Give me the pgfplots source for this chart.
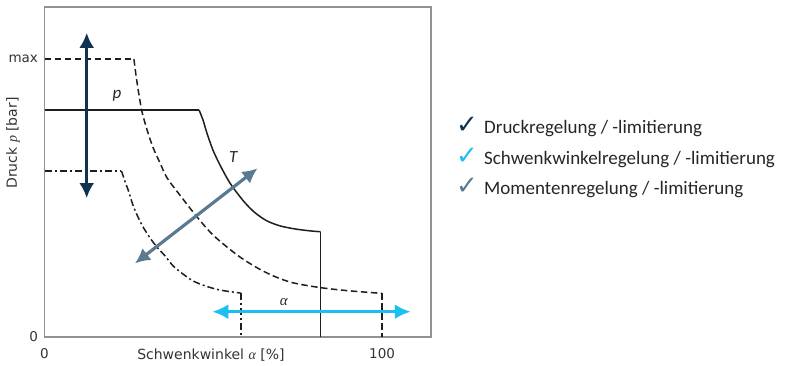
\documentclass[border=0pt]{standalone}
\usepackage{fontspec}
\setmainfont{DejaVu Sans}
\newfontfamily\legfont{Carlito}
\newfontfamily\serfont{Liberation Serif}
\usepackage{pgfplots}
\pgfplotsset{compat=1.18}
\usetikzlibrary{arrows.meta}
\definecolor{navy}{HTML}{0E3250}
\definecolor{steel}{HTML}{5A7A91}
\definecolor{cyanb}{HTML}{1BBFF0}
\definecolor{curve}{HTML}{1E1E1E}
\definecolor{frame}{HTML}{919191}
\newcommand{\gr}[1]{{\serfont\itshape #1}}
\begin{document}
\begin{tikzpicture}
\useasboundingbox (0,0) rectangle (788bp,366bp);
\begin{axis}[
  at={(44.5bp,29bp)}, anchor=south west,
  scale only axis, width=386.5bp, height=330bp,
  xmin=0, xmax=114.5, ymin=0, ymax=118.8,
  clip=false,
  axis line style={frame, line width=1.3bp},
  xtick={0,100}, xticklabels={0,100},
  ytick={0,100}, yticklabels={0,max},
  major tick length=0,
  tick label style={font=\fontsize{13.5bp}{15bp}\selectfont, text=black!80},
  xticklabel style={yshift=-8bp},
  yticklabel style={xshift=-3bp},
  /pgf/number format/assume math mode=true,
  xlabel={Schwenkwinkel \gr{α} [\%]},
  xlabel style={at={(rel axis cs:0.4306,-0.0547)}, anchor=center, font=\fontsize{14bp}{16bp}\selectfont, text=black!80},
  ylabel={Druck \gr{p} [bar]},
  ylabel style={at={(rel axis cs:-0.0815,0.588)}, anchor=center, font=\fontsize{14bp}{16bp}\selectfont, text=black!80},
]
% solid curve (Momentenkennlinie)
\addplot[curve, line width=1.5bp] coordinates {(0,81.7) (45.8,81.7)};
\addplot[curve, line width=1.5bp, smooth, tension=0.5] coordinates {
(45.8,81.7) (46.96,78.1) (48.1,73.5) (49.9,67.3) (52.0,61.9) (54.4,56.5)
(56.4,52.9) (59.4,48.3) (62.4,44.7) (65.9,41.8) (69.8,40.0) (74.2,38.9) (78.7,38.2)
(81.8,37.9)};
\addplot[curve, line width=1.5bp] coordinates {(81.8,37.9) (81.8,0)};
% dashed curve (max)
\addplot[curve, line width=1.5bp, dash pattern=on 6.5bp off 3.5bp] coordinates {(0,100) (26.5,100)};
\addplot[curve, line width=1.5bp, dash pattern=on 6.5bp off 3.5bp, smooth, tension=0.5] coordinates {
(26.5,100) (27.1,94.3) (28.0,87.1) (28.9,81.0) (30.4,74.5) (32.1,68.4)
(34.2,62.7) (36.3,57.3) (40.1,51.1) (45.2,43.2) (50.2,36.4) (57.9,28.8) (65.3,23.4)
(72.7,19.8) (81.6,17.8) (90.5,16.6) (100,15.7)};
\addplot[curve, line width=1.5bp, dash pattern=on 6.5bp off 3.5bp] coordinates {(100,15.7) (100,0)};
% dash-dot curve
\addplot[curve, line width=1.5bp, dash pattern=on 7bp off 3bp on 2bp off 3bp] coordinates {(0,59.8) (22.8,59.8)};
\addplot[curve, line width=1.5bp, dash pattern=on 7bp off 3bp on 2bp off 3bp, smooth, tension=0.5] coordinates {
(22.8,59.8) (23.9,55.8) (24.8,52.9) (26.2,47.5) (27.7,43.2) (29.2,39.6)
(31.3,35.6) (33.3,32.4) (35.7,29.2) (38.1,25.6) (41.0,22.7) (44.0,20.2) (47.6,18.4)
(52.0,16.9) (58.2,15.8)};
\addplot[curve, line width=1.5bp, dash pattern=on 7bp off 3bp on 2bp off 3bp] coordinates {(58.2,15.8) (58.2,0)};
% arrows
\addplot[navy, line width=3.2bp, {Latex[length=15bp,width=15bp]}-{Latex[length=15bp,width=15bp]}] coordinates {(12.5,109.5) (12.5,50)};
\addplot[steel, line width=3.2bp, {Latex[length=15bp,width=15bp]}-{Latex[length=15bp,width=15bp]}] coordinates {(26.8,26.5) (63.1,60.7)};
\addplot[cyanb, line width=3.2bp, {Latex[length=16bp,width=15bp]}-{Latex[length=16bp,width=15bp]}] coordinates {(49.7,9.1) (108.5,9.1)};
% labels
\node[font=\legfont\itshape\fontsize{17bp}{19bp}\selectfont, text=black!85] at (axis cs:21.5,86.8) {p};
\node[font=\legfont\itshape\fontsize{17bp}{19bp}\selectfont, text=black!85] at (axis cs:55.9,64.9) {T};
\node[font=\fontsize{15bp}{17bp}\selectfont, text=black!85] at (axis cs:70.9,12.7) {\gr{α}};
\end{axis}
% legend
\begin{scope}[every node/.style={anchor=base west, inner sep=0pt}]
\node[text=navy, font=\fontsize{26bp}{28bp}\selectfont] at (456bp,232.7bp) {✓};
\node[text=cyanb, font=\fontsize{26bp}{28bp}\selectfont] at (456bp,201bp) {✓};
\node[text=steel, font=\fontsize{26bp}{28bp}\selectfont] at (456bp,171.7bp) {✓};
\node[text=black!85, font=\legfont\fontsize{19bp}{21bp}\selectfont] at (484bp,232.7bp) {Druckregelung / -limitierung};
\node[text=black!85, font=\legfont\fontsize{19bp}{21bp}\selectfont] at (484bp,201bp) {Schwenkwinkelregelung / -limitierung};
\node[text=black!85, font=\legfont\fontsize{19bp}{21bp}\selectfont] at (484bp,171.7bp) {Momentenregelung / -limitierung};
\end{scope}
\end{tikzpicture}
\end{document}
